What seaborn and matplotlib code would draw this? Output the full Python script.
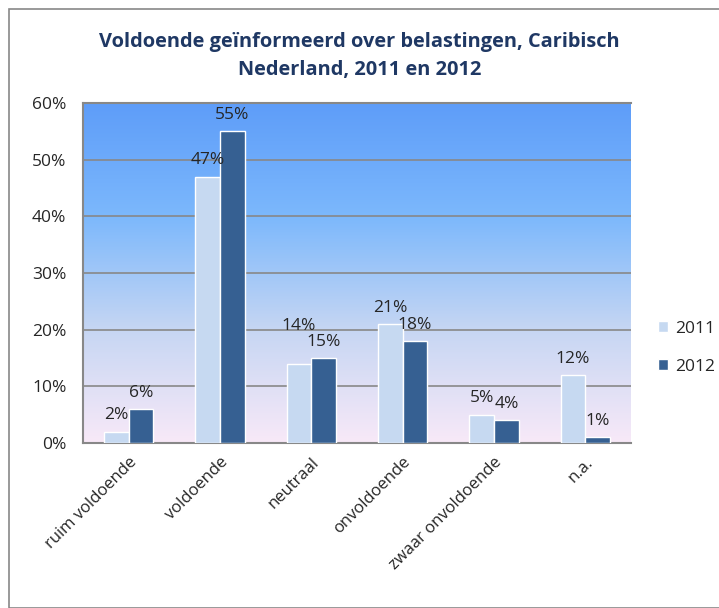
import numpy as np
import pandas as pd
import matplotlib
matplotlib.use('Agg')
import matplotlib.pyplot as plt
import seaborn as sns
from matplotlib.colors import LinearSegmentedColormap
from matplotlib.patches import Rectangle

categories = ['ruim voldoende', 'voldoende', 'neutraal', 'onvoldoende',
              'zwaar onvoldoende', 'n.a.']
values_2011 = [2, 47, 14, 21, 5, 12]
values_2012 = [6, 55, 15, 18, 4, 1]
years = ['2011', '2012']

df = pd.DataFrame({
    'categorie': categories * 2,
    'jaar': [years[0]] * len(categories) + [years[1]] * len(categories),
    'waarde': values_2011 + values_2012,
})

sns.set_style('white')
plt.rcParams['font.family'] = ['Open Sans', 'DejaVu Sans']

fig = plt.figure(figsize=(7.19, 6.08), dpi=100)
ax = fig.add_axes([83 / 719, 1 - 443 / 608, 548 / 719, 340 / 608])

# gradient background: blue at top, pale pink at the bottom
grad = LinearSegmentedColormap.from_list(
    'bg', ['#5e9df9', '#7cb8fc', '#c6d6f3', '#f8e9f8'])
ax.imshow(np.linspace(1, 0, 256).reshape(-1, 1), cmap=grad, aspect='auto',
          extent=(-0.5, 5.5, 0, 60), origin='lower', zorder=0,
          interpolation='bicubic')

palette = {'2011': '#c6d9f1', '2012': '#366092'}
sns.barplot(data=df, x='categorie', y='waarde', hue='jaar', palette=palette,
            width=0.54, saturation=1, edgecolor='white', linewidth=1,
            ax=ax, zorder=3)

ax.set_xlim(-0.5, 5.5)
ax.set_ylim(0, 60)

labels = []
for cont in ax.containers:
    labels.append(ax.bar_label(cont, fmt='%d%%', fontsize=12.5, padding=6,
                               zorder=4))
# lift the 2011 'neutraal' label so it clears the 2012 one
labels[0][2].xyann = (0, 21)

ax.set_yticks(range(0, 61, 10))
ax.set_yticklabels([f'{v}%' for v in range(0, 61, 10)], fontsize=12.5)
ax.yaxis.grid(True, color='#888888', linewidth=1.2)
ax.set_xlabel('')
ax.set_ylabel('')
ax.tick_params(axis='x', labelsize=12, length=0, pad=8)
ax.tick_params(axis='y', length=0, pad=12)
plt.setp(ax.get_xticklabels(), rotation=45, ha='right', rotation_mode='anchor')
for s in ['left', 'bottom', 'top']:
    ax.spines[s].set_color('#888888')
    ax.spines[s].set_linewidth(1.5)
ax.spines['right'].set_visible(False)
for line in ax.get_ygridlines():
    line.set_zorder(1)

ax.legend(loc='center left', bbox_to_anchor=(1.02, 0.28), frameon=False,
          fontsize=12.5, handlelength=0.6, handleheight=0.6,
          handletextpad=0.4, labelspacing=1.3)

fig.text(0.5, 1 - 56 / 608,
         'Voldoende geïnformeerd over belastingen, Caribisch\nNederland, 2011 en 2012',
         ha='center', va='center', fontsize=14.4, fontweight='bold',
         color='#1f3864', linespacing=1.6)

fig.patches.append(Rectangle((9 / 719, 0), 1, 1 - 9 / 608, transform=fig.transFigure,
                             fill=False, edgecolor='#888888', linewidth=1.2))

fig.savefig('out.png', dpi=100)
